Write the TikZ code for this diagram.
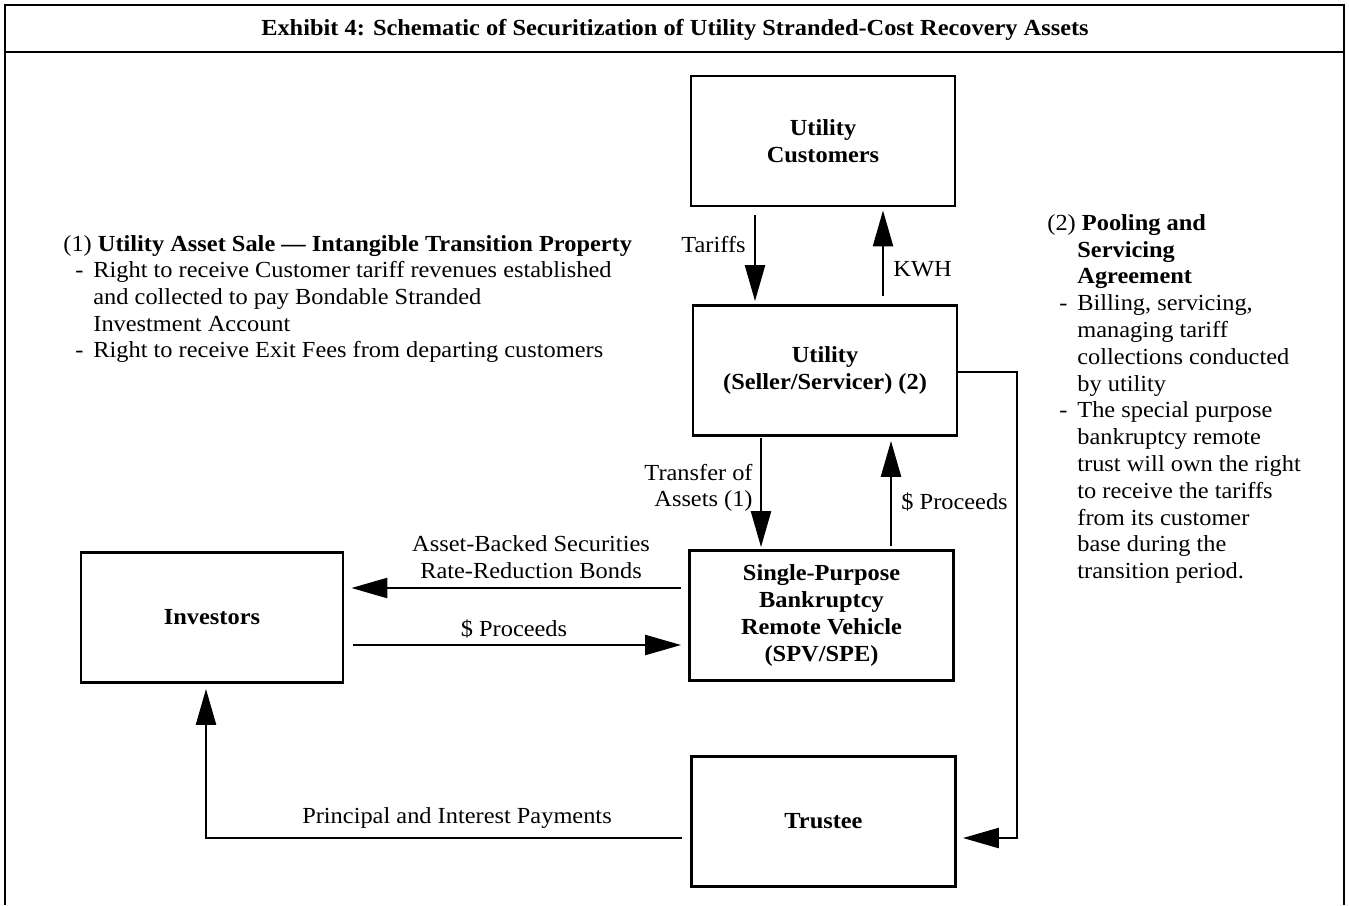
\documentclass[tikz,border=0pt]{standalone}
\usepackage{fontspec}
\setmainfont[FakeStretch=1.06]{Liberation Serif}
\usetikzlibrary{arrows.meta}
\begin{document}
\begin{tikzpicture}[x=0.5pt,y=-0.5pt,
  every node/.style={inner sep=0pt, font=\fontsize{11.5}{13.3}\selectfont},
  box/.style={draw, line width=1.4pt, minimum width=132pt, minimum height=65pt, align=center, font=\fontsize{11.5}{13.4}\selectfont\bfseries},
  arr/.style={line width=1.2pt, -{Triangle[length=18pt,width=10pt]}},
  frame/.style={line width=1.3pt},
  lbl/.style={align=center}]
\useasboundingbox (0,0) rectangle (1349,905);
% frame
\draw[frame] (5,905) -- (5,5) -- (1344,5) -- (1344,905);
\draw[frame] (5,52) -- (1344,52);
\node[font=\fontsize{11.5}{13}\selectfont\bfseries] (title) at (675,30) {Exhibit 4: Schematic of Securitization of Utility Stranded-Cost Recovery Assets};
% boxes
\node[box] (cust) at (823,141) {Utility\\Customers};
\node[box] (util) at (825,370.5) {Utility\\(Seller/Servicer) (2)};
\node[box] (spv) at (821.5,615.5) {Single-Purpose\\Bankruptcy\\Remote Vehicle\\(SPV/SPE)};
\node[box, minimum width=131pt] (inv) at (212,617.5) {Investors};
\node[box] (trus) at (823.5,821.5) {Trustee};
% coordinates
\coordinate (c1) at (1017,372);
\coordinate (c2) at (1017,838);
\coordinate (c3) at (206,838);
% arrows
\draw[arr, shorten <=4pt, shorten >=1.5pt] (cust.south -| 755,0) -- (util.north -| 755,0);
\draw[arr, shorten <=4pt, shorten >=1.5pt] (util.north -| 883,0) -- (cust.south -| 883,0);
\draw[arr, shorten <=0.5pt, shorten >=1pt] (util.south -| 761,0) -- (spv.north -| 761,0);
\draw[arr, shorten <=1.5pt, shorten >=2pt] (spv.north -| 891,0) -- (util.south -| 891,0);
\draw[arr, shorten <=3.5pt, shorten >=3.5pt] (spv.west |- 0,588) -- (inv.east |- 0,588);
\draw[arr, shorten <=4.5pt, shorten >=3.5pt] (inv.east |- 0,645) -- (spv.west |- 0,645);
\draw[arr, shorten >=2.5pt] ([xshift=-4pt]trus.west |- c3) -- (c3) -- (inv.south -| c3);
\draw[arr, shorten >=3pt] (util.east |- c1) -- (c1) -- (c2) -- (trus.east |- c2);
% arrow labels
\node[anchor=east] (ltar) at (746,245) {Tariffs};
\node[anchor=west] (lkwh) at (893,269) {KWH};
\node[anchor=east, align=right] (ltra) at (753,488) {Transfer of\\Assets (1)};
\node[anchor=west] (lpro1) at (901,502) {\$ Proceeds};
\node[lbl] (labs) at (531,557) {Asset-Backed Securities\\Rate-Reduction Bonds};
\node (lpro2) at (514,629) {\$ Proceeds};
\node (lpri) at (457,818) {Principal and Interest Payments};
% left text
\node[anchor=north west, align=left] (lefttext) at (63,235) {%
(1) \textbf{Utility Asset Sale — Intangible Transition Property}\\
\makebox[15pt][l]{\hspace{6pt}-}Right to receive Customer tariff revenues established\\
\hspace*{15pt}and collected to pay Bondable Stranded\\
\hspace*{15pt}Investment Account\\
\makebox[15pt][l]{\hspace{6pt}-}Right to receive Exit Fees from departing customers};
% right text
\node[anchor=north west, align=left, font=\fontsize{11.5}{13.4}\selectfont] (righttext) at (1047,214) {%
(2) \textbf{Pooling and}\\
\hspace*{15pt}\textbf{Servicing}\\
\hspace*{15pt}\textbf{Agreement}\\
\makebox[15pt][l]{\hspace{6pt}-}Billing, servicing,\\
\hspace*{15pt}managing tariff\\
\hspace*{15pt}collections conducted\\
\hspace*{15pt}by utility\\
\makebox[15pt][l]{\hspace{6pt}-}The special purpose\\
\hspace*{15pt}bankruptcy remote\\
\hspace*{15pt}trust will own the right\\
\hspace*{15pt}to receive the tariffs\\
\hspace*{15pt}from its customer\\
\hspace*{15pt}base during the\\
\hspace*{15pt}transition period.};
\end{tikzpicture}
\end{document}
